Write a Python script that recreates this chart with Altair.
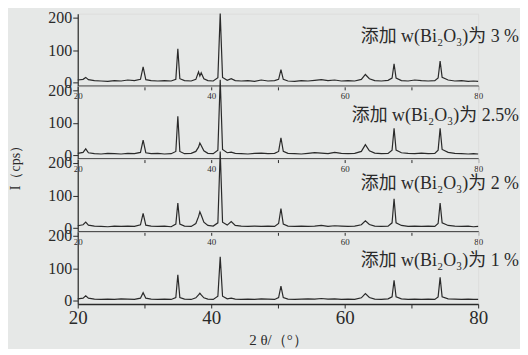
import altair as alt
import pandas as pd

two_theta = [20.0, 20.8, 21.2, 21.6, 22.5, 23.5, 24.5, 25.5, 26.5, 27.5,
             28.5, 29.4, 29.8, 30.2, 31.0, 32.0, 33.0, 34.0, 34.7, 35.0,
             35.3, 36.0, 37.0, 37.7, 38.1, 38.3, 38.5, 38.9, 39.5, 40.3,
             41.0, 41.35, 41.7, 42.4, 43.0, 43.6, 44.5, 45.5, 46.5, 47.5,
             48.5, 49.5, 50.1, 50.45, 50.8, 51.5, 52.5, 53.5, 54.5, 55.5,
             56.5, 57.5, 58.5, 59.5, 60.5, 61.5, 62.5, 63.1, 63.7, 64.5,
             65.5, 66.5, 67.1, 67.4, 67.7, 68.5, 69.5, 70.5, 71.5, 72.5,
             73.5, 74.0, 74.3, 74.6, 75.5, 76.5, 77.5, 78.5, 79.3, 80.0]

i_3 = [8, 10, 16, 9, 6, 5, 4, 6, 5, 8,
       6, 10, 48, 9, 6, 5, 6, 5, 10, 104,
       12, 6, 5, 10, 33, 20, 30, 12, 6, 5,
       15, 212, 16, 7, 12, 6, 5, 6, 4, 8,
       5, 6, 10, 40, 10, 5, 4, 6, 5, 7,
       9, 6, 8, 5, 6, 5, 10, 25, 12, 6,
       5, 7, 14, 58, 14, 6, 5, 8, 6, 5,
       6, 14, 66, 16, 8, 5, 6, 4, 5, 4]

i_25 = [6, 9, 20, 8, 5, 4, 6, 5, 4, 6,
        5, 9, 47, 8, 5, 6, 4, 5, 12, 120,
        12, 5, 6, 12, 25, 38, 30, 14, 6, 5,
        16, 232, 18, 8, 10, 6, 5, 4, 6, 7,
        5, 6, 12, 54, 12, 6, 5, 4, 6, 8,
        7, 5, 9, 6, 5, 6, 12, 33, 14, 7,
        5, 6, 16, 83, 16, 8, 6, 5, 7, 5,
        6, 16, 83, 18, 9, 6, 5, 4, 5, 4]

i_2 = [7, 10, 18, 9, 6, 5, 4, 6, 5, 6,
       5, 10, 45, 9, 6, 5, 6, 4, 12, 77,
       12, 6, 5, 14, 35, 50, 40, 18, 8, 6,
       16, 235, 18, 9, 20, 8, 6, 5, 6, 5,
       6, 5, 14, 60, 12, 6, 5, 6, 5, 6,
       8, 5, 7, 6, 5, 6, 10, 22, 11, 6,
       5, 6, 16, 90, 16, 8, 5, 6, 5, 6,
       5, 14, 77, 16, 8, 6, 5, 6, 4, 5]

i_1 = [6, 8, 15, 8, 5, 4, 5, 4, 6, 5,
       4, 8, 25, 8, 5, 4, 5, 4, 10, 80,
       10, 5, 4, 9, 18, 23, 18, 9, 5, 4,
       14, 135, 14, 6, 8, 5, 4, 5, 4, 6,
       5, 4, 10, 45, 10, 5, 4, 5, 6, 5,
       7, 5, 6, 4, 5, 4, 9, 22, 10, 5,
       4, 6, 12, 63, 12, 6, 4, 5, 4, 5,
       4, 12, 72, 12, 6, 5, 4, 5, 4, 4]

series = [i_3, i_25, i_2, i_1]
labels = ["添加 w(Bi₂O₃)为 3 %", "添加 w(Bi₂O₃)为 2.5%",
          "添加 w(Bi₂O₃)为 2 %", "添加 w(Bi₂O₃)为 1 %"]
x_ticks = [20, 30, 40, 50, 60, 70, 80]
y_ticks = [0, 100, 200]

SERIF = "Liberation Serif"
INK = "#2a2a2a"
label_y = [23, 30, 25, 29]

panels = []
for k, (vals, lab) in enumerate(zip(series, labels)):
    df = pd.DataFrame({"x": two_theta, "y": vals})
    bottom = k == len(series) - 1
    common = dict(values=x_ticks, labelExpr="datum.value % 20 == 0 ? datum.label : ''",
                  labelFont=SERIF, labelColor=INK, tickSize=4, tickColor=INK,
                  domainColor=INK, domainWidth=1.5, grid=False, labelFlush=False)
    if bottom:
        xaxis = alt.Axis(title="2 θ/（°）", titleFont=SERIF, titleFontSize=15,
                         titleFontWeight="normal", titleColor=INK, titlePadding=5,
                         labelFontSize=19, labelPadding=1, **common)
    else:
        xaxis = alt.Axis(title=None, labelFontSize=9, labelPadding=2, **common)
    yargs = dict(values=y_ticks, labelFont=SERIF, labelFontSize=16, labelColor=INK,
                 labelPadding=1, tickSize=5, tickColor=INK, domainColor=INK,
                 domainWidth=1.2, grid=False, labelFlush=False)
    if k == 1:
        yargs.update(title="I（cps）", titleFont=SERIF, titleFontSize=14,
                     titleFontWeight="normal", titleColor=INK, titleX=-55, titleY=78)
    else:
        yargs.update(title=None)
    line = alt.Chart(df).mark_line(color=INK, strokeWidth=1.2, clip=False).encode(
        x=alt.X("x:Q", scale=alt.Scale(domain=[20, 80], nice=False), axis=xaxis),
        y=alt.Y("y:Q", scale=alt.Scale(domain=[-10, 212], nice=False, zero=False),
                axis=alt.Axis(**yargs)),
    )
    txt = alt.Chart(pd.DataFrame({"t": [lab]})).mark_text(
        align="right", baseline="middle", font=SERIF + ", Noto Sans CJK SC",
        fontSize=18, color=INK
    ).encode(x=alt.value(443), y=alt.value(label_y[k]), text="t:N")
    panels.append(alt.layer(line, txt).properties(width=402, height=72.5))

chart = alt.vconcat(*panels, spacing=0, bounds="flush").properties(
    padding={"left": 0, "top": 0, "right": 0, "bottom": 0}
).configure_view(stroke=None).configure(background="#e6e8e7")

chart.save("out.html", embed_options={"renderer": "svg", "actions": False})
